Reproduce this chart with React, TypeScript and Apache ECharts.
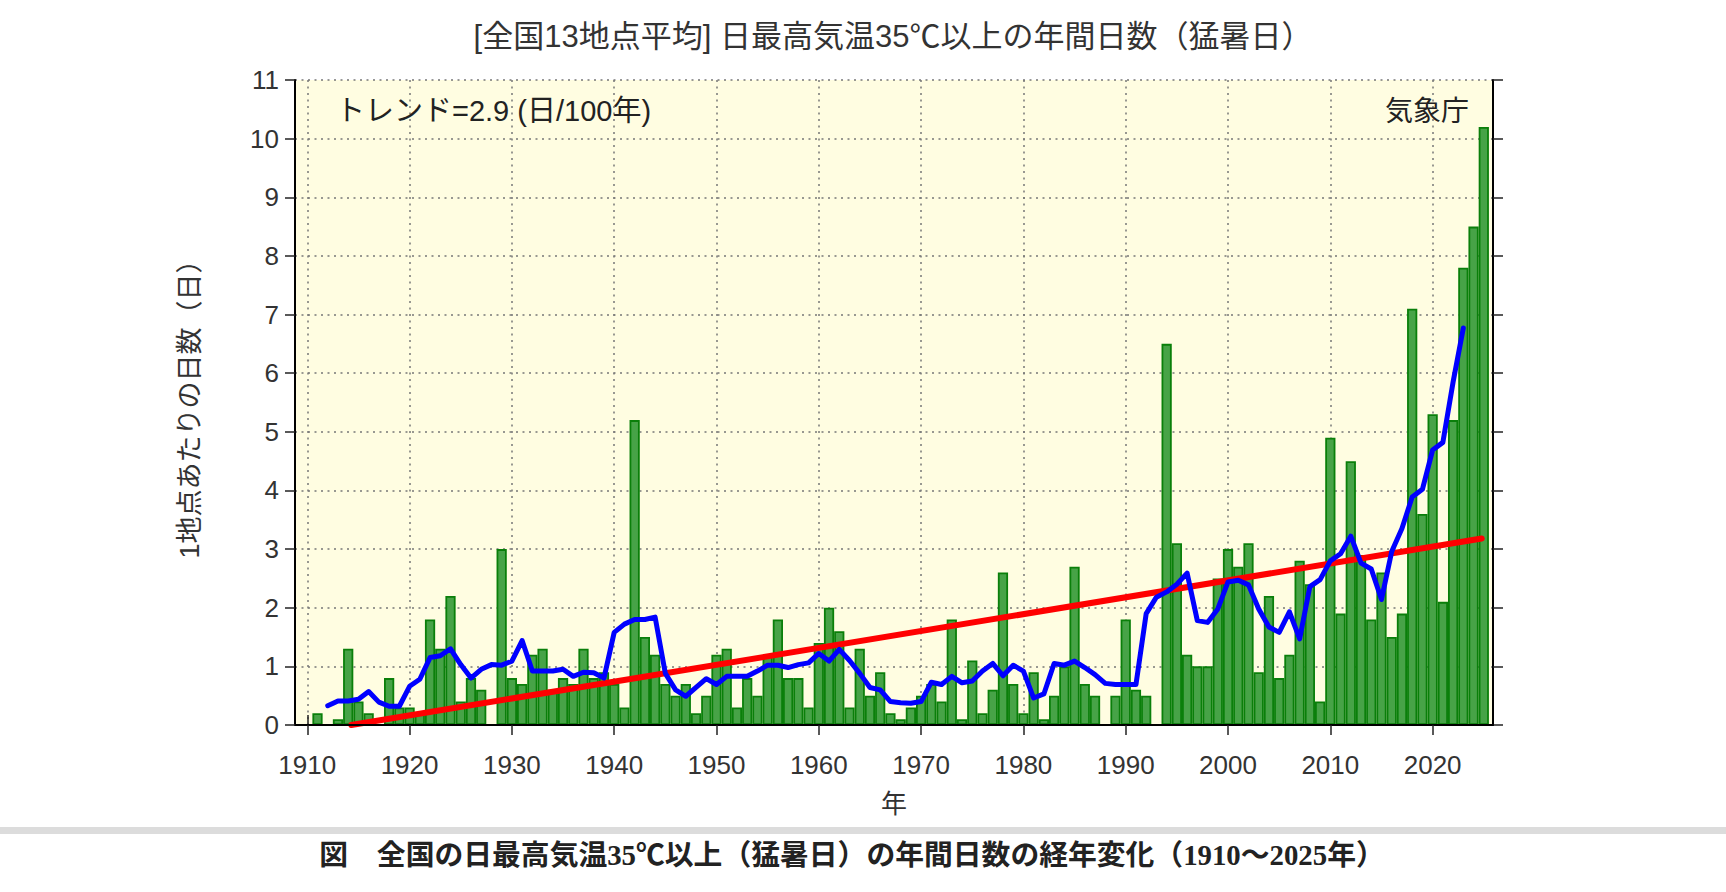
import React, { useEffect, useRef } from "react";
import * as echarts from "echarts";

// ---- data ----
const FIRST_YEAR = 1910;
// annual number of days (per station) with Tmax >= 35°C, 1910..2025
const days = [
  0, 0.2, 0, 0.1, 1.3, 0.4, 0.2, 0, 0.8, 0.3,
  0.3, 0.2, 1.8, 1.3, 2.2, 0.4, 0.8, 0.6, 0, 3.0,
  0.8, 0.7, 1.2, 1.3, 0.6, 0.8, 0.7, 1.3, 0.8, 0.9,
  0.7, 0.3, 5.2, 1.5, 1.2, 0.7, 0.5, 0.7, 0.2, 0.5,
  1.2, 1.3, 0.3, 0.8, 0.5, 1.2, 1.8, 0.8, 0.8, 0.3,
  1.4, 2.0, 1.6, 0.3, 1.3, 0.5, 0.9, 0.2, 0.1, 0.3,
  0.5, 0.7, 0.4, 1.8, 0.1, 1.1, 0.2, 0.6, 2.6, 0.7,
  0.2, 0.9, 0.1, 0.5, 1.0, 2.7, 0.7, 0.5, 0, 0.5,
  1.8, 0.6, 0.5, 0, 6.5, 3.1, 1.2, 1.0, 1.0, 2.5,
  3.0, 2.7, 3.1, 0.9, 2.2, 0.8, 1.2, 2.8, 2.4, 0.4,
  4.9, 1.9, 4.5, 2.9, 1.8, 2.6, 1.5, 1.9, 7.1, 3.6,
  5.3, 2.1, 5.2, 7.8, 8.5, 10.2,
];

// 5-year running mean (blue line), 1912..2023
const MA_FIRST_YEAR = 1912;
const movingAvg = [
  0.33, 0.41, 0.41, 0.44, 0.57, 0.39, 0.32, 0.32,
  0.66, 0.78, 1.15, 1.18, 1.3, 1.03, 0.8, 0.95, 1.03, 1.02,
  1.09, 1.44, 0.92, 0.92, 0.92, 0.95, 0.83, 0.9, 0.89, 0.8,
  1.58, 1.72, 1.8, 1.8, 1.84, 0.88, 0.6, 0.49, 0.64, 0.79,
  0.69, 0.83, 0.83, 0.83, 0.92, 1.02, 1.02, 0.98, 1.03, 1.06,
  1.22, 1.09, 1.29, 1.1, 0.88, 0.64, 0.6, 0.4, 0.38, 0.37,
  0.4, 0.73, 0.69, 0.83, 0.72, 0.75, 0.92, 1.05, 0.84, 1.02,
  0.92, 0.46, 0.53, 1.05, 1.02, 1.09, 0.98, 0.86, 0.71, 0.69,
  0.69, 0.69, 1.9, 2.18, 2.27, 2.4, 2.59, 1.78, 1.75, 1.98,
  2.44, 2.47, 2.39, 1.98, 1.67, 1.58, 1.93, 1.47, 2.36, 2.48,
  2.8, 2.92, 3.22, 2.76, 2.66, 2.14, 2.96, 3.35, 3.89, 4.02,
  4.69, 4.82, 5.85, 6.77,
];

// long-term trend line (red), end points [year, days]
const trendYears = [1914.3, 2024.8];
const trendValues = [0, 3.18];

const xTickValues = [1910, 1920, 1930, 1940, 1950, 1960, 1970, 1980, 1990, 2000, 2010, 2020];
const X_MIN = 1908.8;
const X_MAX = 2025.9;
const Y_MIN = 0;
const Y_MAX = 11;

const TITLE = "[全国13地点平均] 日最高気温35℃以上の年間日数（猛暑日）";
const Y_NAME = "1地点あたりの日数（日）";
const X_NAME = "年";
const TREND_TEXT = "トレンド=2.9 (日/100年)";
const SOURCE_TEXT = "気象庁";
const CAPTION = "図　全国の日最高気温35℃以上（猛暑日）の年間日数の経年変化（1910〜2025年）";

const SANS = '"Liberation Sans", "Noto Sans CJK JP", sans-serif';
const SERIF = '"Liberation Serif", "Noto Sans CJK JP", serif';

export default function App() {
  const ref = useRef<HTMLDivElement>(null);

  useEffect(() => {
    if (!ref.current) return;
    const chart = echarts.init(ref.current, undefined, { renderer: "svg" });

    const barData = days.map((v, i) => [FIRST_YEAR + i, v]);
    const maData = movingAvg.map((v, i) => [MA_FIRST_YEAR + i, v]);
    const trendData = trendYears.map((y, i) => [y, trendValues[i]]);

    const gridLine = {
      show: true,
      lineStyle: { color: "#777777", width: 1.5, type: [2, 4.5] as any },
    };
    const frameLine = { show: true, lineStyle: { color: "#000", width: 2 } };
    const tickOut = { show: true, inside: false, length: 10, lineStyle: { color: "#222", width: 1.5 } };

    chart.setOption({
      animation: false,
      backgroundColor: "#ffffff",
      textStyle: { fontFamily: SANS },
      grid: {
        left: 295,
        top: 80,
        width: 1198,
        height: 645,
        show: true,
        backgroundColor: "#fffde1",
        borderWidth: 0,
        containLabel: false,
      },
      xAxis: [
        {
          type: "value",
          position: "bottom",
          min: X_MIN,
          max: X_MAX,
          z: 10,
          axisLine: frameLine,
          axisTick: { ...tickOut, customValues: xTickValues },
          axisLabel: {
            customValues: xTickValues,
            formatter: (v: number) => String(Math.round(v)),
            margin: 27,
            fontSize: 26,
            color: "#333",
            fontFamily: SANS,
          },
          splitLine: { show: false },
          name: X_NAME,
          nameLocation: "middle",
          nameGap: 66,
          nameTextStyle: { fontSize: 26, color: "#333", fontFamily: SANS },
        },
        {
          type: "value",
          position: "top",
          min: X_MIN,
          max: X_MAX,
          axisLine: frameLine,
          axisTick: { ...tickOut, customValues: xTickValues },
          axisLabel: { show: false, customValues: xTickValues },
          splitLine: gridLine,
        },
      ],
      yAxis: [
        {
          type: "value",
          position: "left",
          min: Y_MIN,
          max: Y_MAX,
          interval: 1,
          z: 10,
          axisLine: frameLine,
          axisTick: tickOut,
          axisLabel: { margin: 16, fontSize: 26, color: "#333", fontFamily: SANS },
          splitLine: { show: false },
          name: Y_NAME,
          nameLocation: "middle",
          nameRotate: 90,
          nameGap: 92,
          nameTextStyle: { fontSize: 27, color: "#333", fontFamily: SANS },
        },
        {
          type: "value",
          position: "right",
          min: Y_MIN,
          max: Y_MAX,
          interval: 1,
          axisLine: frameLine,
          axisTick: tickOut,
          axisLabel: { show: false },
          splitLine: gridLine,
        },
      ],
      series: [
        {
          type: "bar",
          xAxisIndex: 0,
          yAxisIndex: 0,
          data: barData,
          barWidth: "100%",
          itemStyle: { color: "#47a347", borderColor: "#0a7f0a", borderWidth: 1.8 },
          z: 2,
        },
        {
          type: "line",
          xAxisIndex: 0,
          yAxisIndex: 0,
          data: trendData,
          symbol: "none",
          lineStyle: { color: "#ff0000", width: 6, cap: "round" },
          z: 3,
        },
        {
          type: "line",
          xAxisIndex: 0,
          yAxisIndex: 0,
          data: maData,
          symbol: "none",
          lineStyle: { color: "#0000ff", width: 5, cap: "round", join: "round" },
          z: 4,
        },
      ],
      graphic: [
        {
          type: "text",
          x: 893,
          y: 36,
          style: {
            text: TITLE,
            fill: "#333",
            fontSize: 31,
            fontFamily: SANS,
            textAlign: "center",
            textVerticalAlign: "middle",
          },
        },
        {
          type: "text",
          x: 336,
          y: 111,
          z: 20,
          style: {
            text: TREND_TEXT,
            fill: "#222",
            fontSize: 29,
            fontFamily: SANS,
            textAlign: "left",
            textVerticalAlign: "middle",
          },
        },
        {
          type: "text",
          x: 1469,
          y: 111,
          z: 20,
          style: {
            text: SOURCE_TEXT,
            fill: "#222",
            fontSize: 28,
            fontFamily: SANS,
            textAlign: "right",
            textVerticalAlign: "middle",
          },
        },
        {
          type: "rect",
          shape: { x: 0, y: 827, width: 1726, height: 7 },
          style: { fill: "#dcdcdc" },
        },
        {
          type: "text",
          x: 852,
          y: 855,
          style: {
            text: CAPTION,
            fill: "#222",
            fontSize: 28.8,
            fontWeight: "bold",
            fontFamily: SERIF,
            textAlign: "center",
            textVerticalAlign: "middle",
          },
        },
      ],
    });

    return () => chart.dispose();
  }, []);

  return (
    <div
      ref={ref}
      style={{ position: "fixed", left: 0, top: 0, width: 1726, height: 892, background: "#fff" }}
    />
  );
}
